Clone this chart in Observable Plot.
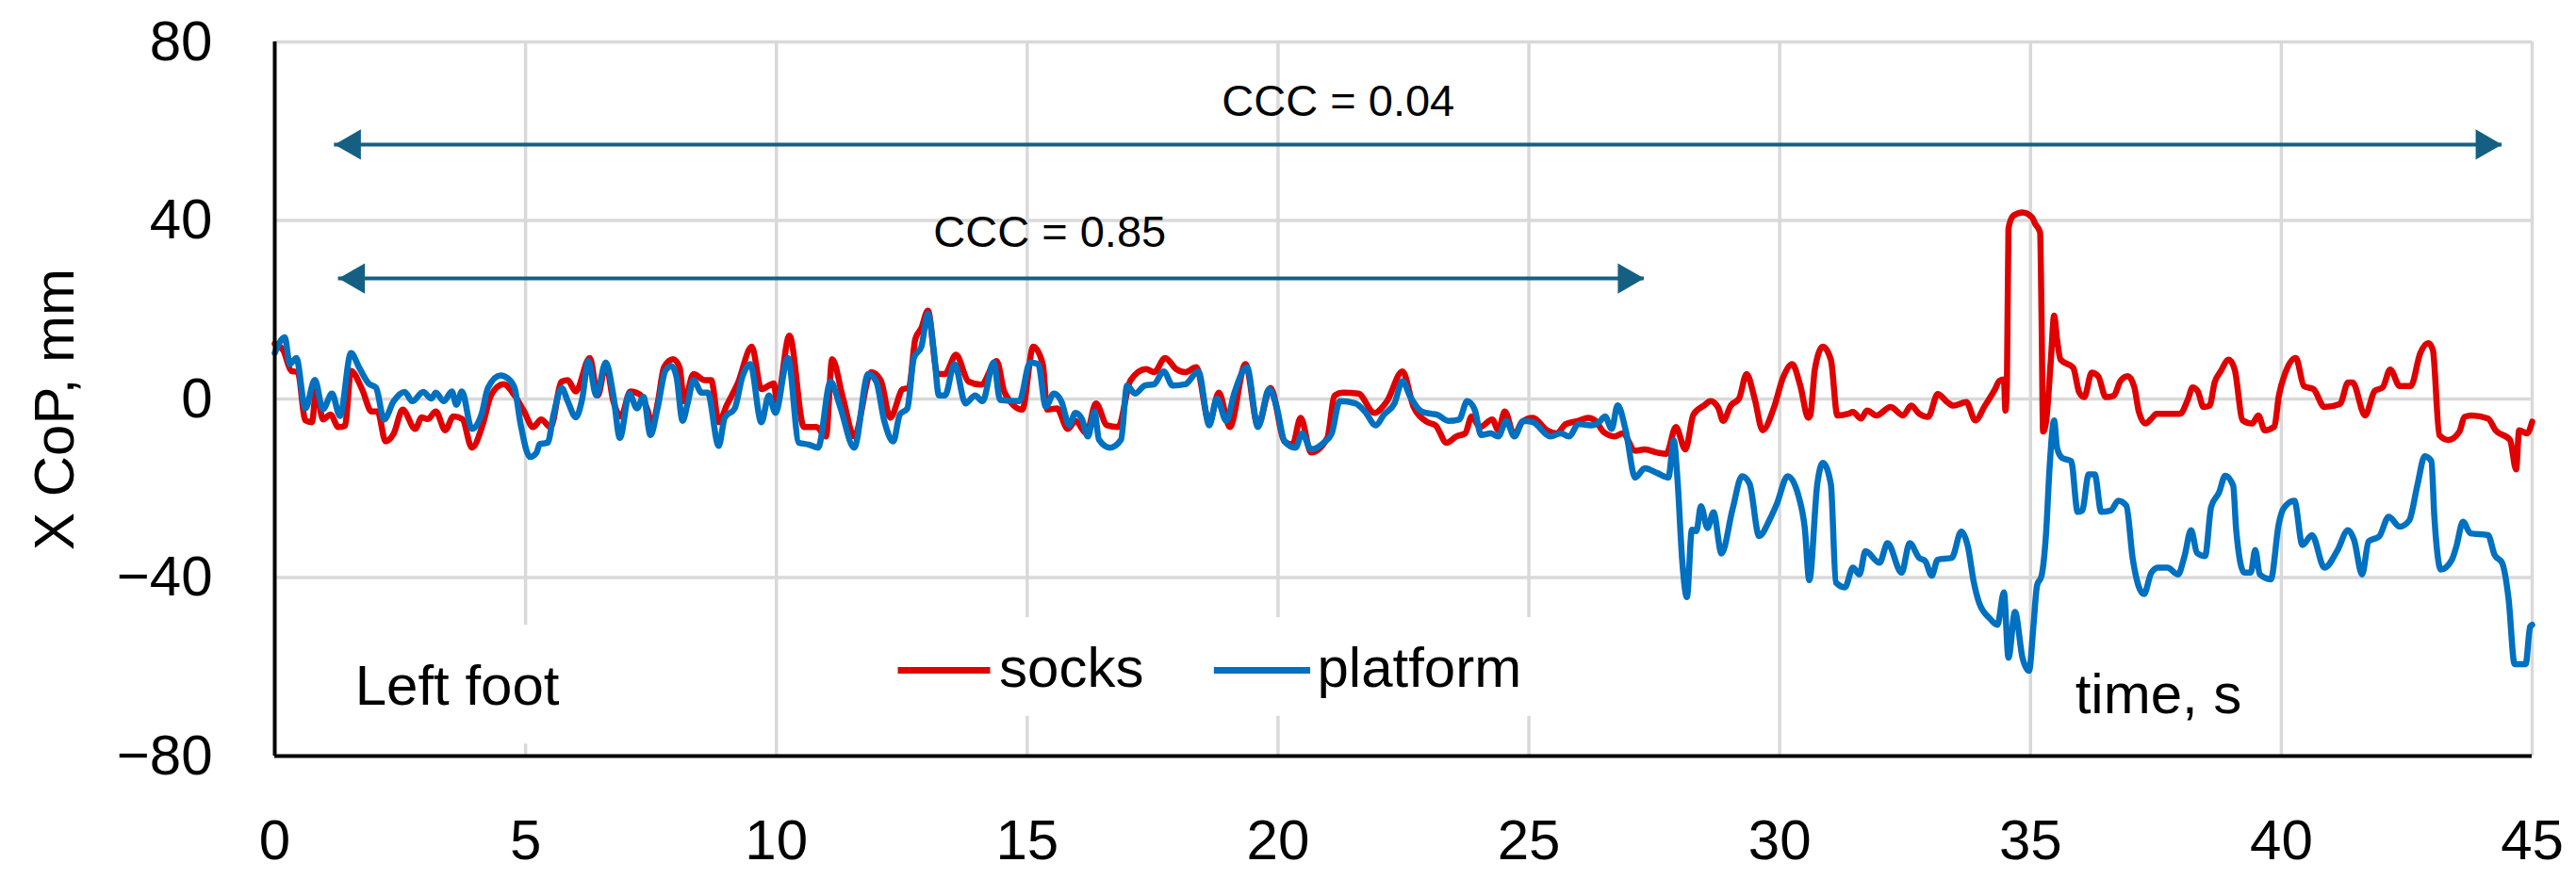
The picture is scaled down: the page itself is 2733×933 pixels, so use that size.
<!DOCTYPE html>
<html>
<head>
<meta charset="utf-8">
<script src="https://cdn.jsdelivr.net/npm/d3@7"></script>
<script src="https://cdn.jsdelivr.net/npm/@observablehq/plot@0.6"></script>
<style>
  html, body { margin: 0; padding: 0; background: #ffffff; }
  #chart svg { display: block; }
</style>
</head>
<body>
<div id="chart"></div>
<script>
// ---- data ----
const seriesNames = ["socks", "platform"];
const seriesColors = ["#E00000", "#0070C0"];

const socksTime = [0,0.17,0.33,0.46,0.61,0.74,0.83,0.96,1.11,1.27,1.40,1.52,1.74,1.93,2.05,2.21,2.37,2.55,2.80,2.93,3.05,3.21,3.40,3.56,3.74,3.93,4.15,4.31,4.56,4.78,4.97,5.15,5.31,5.50,5.72,5.84,6.00,6.28,6.44,6.60,6.75,6.90,7.09,7.28,7.44,7.52,7.64,7.76,7.94,8.07,8.16,8.35,8.57,8.70,8.85,9.01,9.23,9.51,9.70,9.95,10.01,10.26,10.55,10.80,10.99,11.11,11.33,11.55,11.89,12.08,12.27,12.52,12.64,12.77,12.89,13.02,13.21,13.36,13.58,13.83,14.08,14.39,14.55,14.90,15.12,15.31,15.40,15.59,15.81,15.96,16.18,16.37,16.59,16.81,17.06,17.37,17.53,17.75,17.97,18.15,18.37,18.63,18.82,19.04,19.35,19.60,19.85,20.13,20.29,20.45,20.66,20.98,21.13,21.29,21.60,21.92,22.17,22.48,22.70,22.98,23.14,23.36,23.55,23.73,23.86,24.02,24.27,24.39,24.52,24.71,24.86,25.08,25.36,25.55,25.74,25.99,26.18,26.33,26.49,26.71,26.87,27.12,27.31,27.56,27.74,27.93,28.12,28.28,28.50,28.62,28.78,28.87,29.03,29.19,29.34,29.50,29.66,29.88,30.07,30.25,30.41,30.57,30.61,30.70,30.86,31.02,31.15,31.37,31.46,31.62,31.74,31.93,32.21,32.46,32.62,32.78,32.96,33.15,33.34,33.46,33.72,33.90,34.09,34.31,34.37,34.47,34.50,34.53,34.56,34.66,34.84,35.03,35.09,35.19,35.22,35.25,35.31,35.41,35.47,35.53,35.60,35.85,35.97,36.07,36.22,36.35,36.50,36.66,36.79,36.94,37.07,37.16,37.29,37.41,37.51,37.98,38.14,38.23,38.33,38.45,38.57,38.67,38.79,38.95,39.07,39.23,39.42,39.54,39.67,39.86,39.95,40.08,40.29,40.45,40.64,40.86,41.17,41.33,41.42,41.67,41.86,42.02,42.17,42.36,42.58,42.77,42.93,43.02,43.15,43.33,43.55,43.65,43.80,44.12,44.27,44.56,44.68,44.74,44.90,45.0];
const socksCoP = [12.4,10.9,6.3,6.0,-4.8,-5.2,2.2,-4.6,-3.5,-6.3,-6.0,6.3,2.2,-2.8,-2.8,-9.5,-7.8,-2.4,-6.7,-4.1,-4.5,-2.8,-7.0,-3.9,-4.5,-10.9,-5.6,0.8,3.3,0.8,-2.8,-6.3,-4.6,-6.3,3.9,4.2,1.7,9.2,0.8,7.8,-0.5,-3.9,1.7,1.0,-2.8,-6.0,-0.5,7.1,8.9,7.1,-0.5,5.6,4.2,4.2,-5.2,-1.4,3.5,11.7,2.2,3.5,-0.5,14.2,-6.3,-6.3,-8.4,8.9,0.1,-8.4,6.0,4.2,-4.2,2.2,2.5,13.5,15.9,19.8,5.6,5.6,9.9,3.9,3.2,8.5,1.4,-2.4,11.7,7.8,-2.4,-2.1,-6.7,-4.9,-7.7,-1.0,-5.9,-6.3,4.2,6.7,6.0,9.2,6.7,6.0,7.1,-5.2,1.4,-6.3,7.8,-5.9,2.5,-9.5,-10.2,-4.2,-12.0,-8.8,0.8,1.4,1.2,-3.1,-0.5,6.2,-1.7,-5.2,-5.9,-9.8,-8.4,-7.7,-3.9,-6.3,-4.6,-7.0,-2.8,-8.1,-5.2,-4.2,-7.0,-7.7,-5.6,-4.9,-4.2,-4.9,-7.4,-8.4,-7.7,-11.6,-11.3,-12.0,-12.3,-6.3,-11.3,-3.5,-1.4,-0.5,-2.1,-4.9,-1.4,0.1,5.6,0.1,-7.0,-2.1,4.9,7.8,3.0,-4.2,-3.7,6.6,11.7,8.8,-3.7,-3.3,-2.9,-4.4,-2.6,-3.7,-1.8,-3.7,-1.5,-3.3,-4.0,1.1,-0.7,-1.5,-0.7,-4.8,-1.5,2.6,4.0,4.4,-2.6,3.7,38.2,41.1,41.8,40.7,39.3,37.4,18.3,-7.3,-5.1,9.5,18.7,13.2,8.8,7.0,1.5,0.4,5.9,5.1,0.4,0.7,4.0,5.1,2.6,-2.9,-5.5,-4.4,-3.3,-3.3,0.0,2.6,1.8,-1.8,-1.5,3.7,6.2,8.8,6.6,-4.8,-5.5,-3.7,-7.0,-6.2,0.7,5.9,9.2,2.9,2.2,-1.8,-1.1,3.7,3.7,-3.7,1.8,2.6,6.6,2.9,2.9,10.3,12.5,11.0,-8.1,-9.2,-7.3,-4.0,-3.7,-4.4,-7.0,-9.2,-15.8,-7.0,-7.7,-5.1];

const platformTime = [0,0.2,0.3,0.43,0.61,0.80,0.96,1.14,1.30,1.52,1.68,1.87,2.02,2.18,2.37,2.59,2.74,2.96,3.12,3.21,3.37,3.53,3.62,3.73,3.93,4.12,4.25,4.50,4.65,4.78,4.90,5.09,5.22,5.28,5.44,5.56,5.72,5.84,6.00,6.13,6.25,6.41,6.60,6.75,6.88,7.07,7.22,7.35,7.49,7.63,7.79,7.91,8.01,8.13,8.23,8.35,8.51,8.63,8.85,8.97,9.17,9.32,9.48,9.70,9.85,9.98,10.23,10.45,10.64,10.83,11.08,11.27,11.55,11.83,11.99,12.15,12.33,12.46,12.61,12.74,12.89,13.02,13.14,13.24,13.36,13.55,13.77,13.96,14.11,14.33,14.46,14.84,15.06,15.22,15.37,15.53,15.68,15.84,15.96,16.09,16.21,16.34,16.43,16.65,16.87,16.99,17.15,17.34,17.53,17.72,17.90,18.15,18.41,18.63,18.78,18.97,19.13,19.38,19.60,19.82,19.97,20.13,20.35,20.48,20.66,20.91,21.07,21.23,21.54,21.73,21.95,22.11,22.32,22.48,22.64,22.86,23.05,23.17,23.39,23.61,23.77,23.92,24.05,24.24,24.39,24.55,24.71,24.89,25.08,25.43,25.64,25.80,25.99,26.24,26.40,26.52,26.65,26.77,26.93,27.12,27.31,27.56,27.78,27.89,27.96,28.06,28.15,28.25,28.34,28.43,28.56,28.68,28.84,29.06,29.25,29.40,29.59,29.81,29.94,30.16,30.38,30.50,30.59,30.75,30.86,31.02,31.12,31.30,31.46,31.59,31.71,31.99,32.15,32.43,32.59,32.78,32.90,33.03,33.15,33.43,33.62,33.75,33.87,33.97,34.19,34.34,34.47,34.56,34.69,34.84,34.97,35.06,35.13,35.22,35.31,35.38,35.47,35.53,35.63,35.81,35.94,36.03,36.16,36.28,36.41,36.60,36.75,36.91,37.04,37.26,37.41,37.54,37.73,37.94,38.07,38.20,38.32,38.48,38.60,38.76,38.88,39.04,39.10,39.26,39.39,39.48,39.57,39.79,39.95,40.04,40.26,40.42,40.61,40.86,41.11,41.33,41.45,41.61,41.74,41.95,42.14,42.36,42.55,42.71,42.86,42.99,43.05,43.18,43.40,43.49,43.62,43.77,44.12,44.25,44.40,44.53,44.65,44.87,44.96,45.0];
const platformCoP = [10.3,13.8,7.8,9.2,-2.1,4.3,-2.3,1.2,-3.8,10.3,7.1,3.5,2.5,-4.6,-0.5,1.6,-0.5,1.6,0.1,1.4,-0.5,1.7,-1.3,1.7,-6.7,-3.5,2.5,5.3,4.6,2.5,-5.6,-13.0,-12.0,-10.1,-9.8,-3.4,2.5,-0.5,-4.1,0.1,8.5,0.8,8.2,0.8,-8.7,1.2,-2.1,0.5,-8.1,-2.1,6.4,7.4,4.9,-4.9,-1.0,4.2,1.4,1.4,-10.5,-4.2,-2.1,4.9,7.8,-5.2,0.8,-3.1,9.2,-9.8,-10.2,-10.9,3.9,-1.7,-10.9,5.6,3.9,-4.9,-9.5,-3.5,-2.1,9.2,11.7,19.1,10.6,0.8,0.8,7.8,-1.0,0.8,-0.5,8.2,-0.2,-0.5,8.2,7.8,-1.7,1.2,-0.5,-5.9,-3.1,-4.5,-8.4,-2.8,-9.1,-10.9,-9.1,3.0,1.2,3.0,3.3,6.2,3.0,3.3,6.2,-5.9,0.1,-4.9,1.4,7.1,-6.3,2.2,-1.7,-9.5,-10.9,-7.7,-11.3,-9.8,-7.7,-0.5,-1.0,-2.8,-5.9,-3.5,-1.0,4.0,0.4,-2.8,-3.3,-3.5,-4.9,-4.6,-0.5,-2.4,-8.1,-7.7,-8.4,-4.9,-8.4,-4.9,-5.2,-8.4,-7.7,-8.4,-5.6,-5.9,-5.2,-3.9,-6.7,-1.4,-7.0,-17.6,-15.5,-16.6,-17.6,-9.3,-17.6,-36.7,-44.4,-29.3,-29.6,-24.0,-28.9,-25.4,-34.6,-24.7,-17.3,-19.0,-30.7,-26.8,-23.6,-17.3,-21.9,-28.9,-40.6,-19.0,-14.3,-19.1,-41.1,-42.2,-37.8,-39.3,-34.1,-36.7,-32.3,-38.9,-32.3,-35.6,-36.3,-39.6,-36.0,-35.6,-29.7,-33.0,-41.1,-45.5,-49.2,-50.6,-43.3,-58.0,-47.7,-58.0,-60.9,-50.6,-41.8,-39.6,-30.1,-15.4,-4.8,-11.0,-13.2,-13.9,-25.3,-25.0,-16.9,-16.9,-25.3,-25.0,-22.8,-23.9,-36.0,-43.7,-38.9,-37.8,-37.8,-39.3,-35.2,-29.4,-34.5,-35.2,-24.2,-20.9,-17.2,-19.4,-29.4,-38.9,-38.9,-33.8,-39.3,-40.4,-27.9,-24.6,-22.8,-32.7,-30.5,-37.8,-34.1,-29.4,-31.6,-39.3,-31.9,-30.8,-26.4,-28.6,-27.2,-19.4,-12.8,-13.9,-26.4,-38.2,-36.0,-33.0,-27.5,-30.1,-30.5,-34.9,-36.7,-44.8,-59.4,-59.4,-51.0,-50.6];

const xTicks = [0, 5, 10, 15, 20, 25, 30, 35, 40, 45];
const yTicks = [-80, -40, 0, 40, 80];

// CCC annotations: label, time span of the double arrow, level of the arrow
const cccLabels = ["CCC = 0.04", "CCC = 0.85"];
const cccStart = [1.19, 1.27];
const cccEnd = [44.4, 27.3];
const cccLevel = [57, 27];

const yLabel = "X CoP, mm";
const footLabel = "Left foot";
const timeLabel = "time, s";

// ---- build table ----
const rows = [
  ...socksTime.map((t, i) => ({series: seriesNames[0], t, v: socksCoP[i]})),
  ...platformTime.map((t, i) => ({series: seriesNames[1], t, v: platformCoP[i]}))
];

// ---- layout / style ----
const FONT = "'Liberation Sans', Arial, sans-serif";
const GRID = "#D9D9D9";
const ARROW = "#156082";
const TXT = 60;
const CCC_TXT = 47;

// text/legend placement (in chart units)
const cccTextX = [21.2, 15.45];
const cccTextY = [63.5, 34.0];
const legendSwatchX1 = [12.43, 18.73];
const legendSwatchX2 = [14.27, 20.65];
const legendTextX = [14.44, 20.78];

const chart = Plot.plot({
  width: 2733,
  height: 933,
  marginLeft: 291,
  marginRight: 47,
  marginTop: 44,
  marginBottom: 131,
  style: {fontFamily: FONT, background: "#ffffff", color: "#000000"},
  x: {domain: [0, 45]},
  y: {domain: [-80, 80]},
  color: {domain: seriesNames, range: seriesColors},
  marks: [
    // gridlines
    Plot.ruleX(xTicks.filter(d => d > 0), {stroke: GRID, strokeWidth: 3.5}),
    Plot.ruleY(yTicks.filter(d => d > -80), {stroke: GRID, strokeWidth: 3.5}),
    // opaque text boxes (they interrupt the gridlines as in the original)
    Plot.rect([footLabel], {x1: 1.1, x2: 8.0, y1: -50.7, y2: -77.3, fill: "#ffffff"}),
    Plot.rect([seriesNames], {x1: 12.0, x2: 25.6, y1: -49.0, y2: -71.1, fill: "#ffffff"}),
    // data lines
    Plot.line(rows, {x: "t", y: "v", z: "series", stroke: "series", strokeWidth: 6.5,
      curve: "monotone-x", strokeLinejoin: "round", strokeLinecap: "round"}),
    // axes
    Plot.axisX(xTicks, {tickSize: 0, tickPadding: 67, fontSize: TXT, label: null}),
    Plot.axisY(yTicks, {tickSize: 0, tickPadding: 66, fontSize: TXT, label: null}),
    Plot.ruleX([0], {stroke: "#000000", strokeWidth: 4}),
    Plot.ruleY([-80], {stroke: "#000000", strokeWidth: 4}),
    // y label
    Plot.text([yLabel], {frameAnchor: "left", textAnchor: "middle", dx: -233, dy: 11, rotate: -90, fontSize: TXT, fill: "#000000"}),
    // CCC arrows
    Plot.ruleY(cccLevel, {x1: cccStart, x2: cccEnd, y: cccLevel, stroke: ARROW, strokeWidth: 4}),
    Plot.dot(cccLevel, {x: cccStart, y: cccLevel, symbol: "triangle", rotate: -90, r: 12, fill: ARROW, stroke: "none", dx: 18.7}),
    Plot.dot(cccLevel, {x: cccEnd, y: cccLevel, symbol: "triangle", rotate: 90, r: 12, fill: ARROW, stroke: "none", dx: -18.7}),
    Plot.text(cccLabels, {x: cccTextX, y: cccTextY, lineAnchor: "bottom", fontSize: CCC_TXT, fill: "#000000"}),
    // in-plot labels
    Plot.text([footLabel], {x: 1.6, y: -68.4, textAnchor: "start", lineAnchor: "bottom", fontSize: TXT, fill: "#000000"}),
    Plot.text([timeLabel], {x: 35.89, y: -70.5, textAnchor: "start", lineAnchor: "bottom", fontSize: TXT, fill: "#000000"}),
    // legend
    Plot.ruleY(seriesNames, {x1: legendSwatchX1, x2: legendSwatchX2, y: [-60.8, -60.8], stroke: seriesColors, strokeWidth: 7}),
    Plot.text(seriesNames, {x: legendTextX, y: [-64.4, -64.4], textAnchor: "start", lineAnchor: "bottom", fontSize: TXT, fill: "#000000"})
  ]
});

document.getElementById("chart").appendChild(chart);
</script>
</body>
</html>
